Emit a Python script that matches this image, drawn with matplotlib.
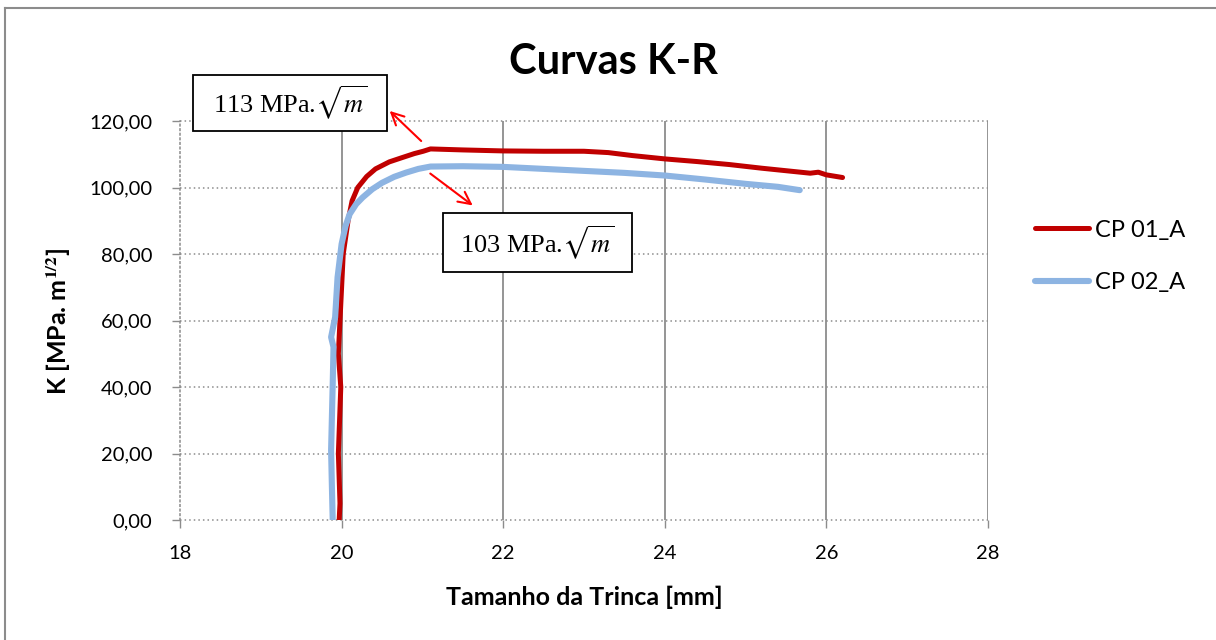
import matplotlib
matplotlib.use("Agg")
import matplotlib.pyplot as plt
from matplotlib.patches import Rectangle
from matplotlib.lines import Line2D
from matplotlib.ticker import FuncFormatter

plt.rcParams['mathtext.fontset'] = 'stix'

# ---- data ----
cp01_x = [19.97, 19.98, 19.96, 19.99, 19.96, 19.98, 20.00, 20.02, 20.08, 20.13,
          20.20, 20.31, 20.42, 20.59, 20.75, 20.90, 21.01, 21.10, 21.50, 22.00,
          22.50, 23.00, 23.30, 23.60, 24.00, 24.40, 24.80, 25.20, 25.60, 25.80,
          25.90, 26.00, 26.20]
cp01_y = [0.0, 5.0, 20.0, 40.0, 50.0, 60.0, 70.0, 80.0, 90.0, 96.0,
          100.0, 103.3, 105.6, 107.7, 109.0, 110.2, 110.9, 111.6, 111.3, 111.0,
          110.9, 110.9, 110.5, 109.6, 108.6, 107.8, 106.9, 105.8, 104.8, 104.3,
          104.6, 103.8, 103.0]

cp02_x = [19.89, 19.88, 19.87, 19.89, 19.90, 19.87, 19.92, 19.95, 20.00, 20.05,
          20.10, 20.18, 20.26, 20.38, 20.50, 20.65, 20.80, 20.95, 21.10, 21.50,
          22.00, 22.50, 23.00, 23.50, 24.00, 24.50, 25.00, 25.40, 25.67]
cp02_y = [0.0, 10.0, 21.0, 41.0, 52.0, 55.0, 61.0, 73.0, 83.0, 88.5,
          92.0, 95.0, 97.0, 99.5, 101.4, 103.2, 104.5, 105.6, 106.3, 106.4,
          106.2, 105.6, 105.0, 104.4, 103.6, 102.4, 101.1, 100.2, 99.2]

series_names = ["CP 01_A", "CP 02_A"]
x_ticks = [18, 20, 22, 24, 26, 28]
y_ticks = [0, 20, 40, 60, 80, 100, 120]
title = "Curvas K-R"
xlabel = "Tamanho da Trinca [mm]"
ylabel = r"K [MPa. m$^{\mathbf{1/2}}$]"
note1 = r"113 MPa.$\sqrt{m}$"
note2 = r"103 MPa.$\sqrt{m}$"

RED = "#c00000"
BLUE = "#8db4e2"
GRID = "#8c8c8c"
FONT = "Lato"
W, H = 1216, 640

fig = plt.figure(figsize=(12.16, 6.4), dpi=100)
ax = fig.add_axes([180/W, 120/H, 808/W, 399/H])

ax.set_xlim(x_ticks[0], x_ticks[-1])
ax.set_ylim(y_ticks[0], y_ticks[-1])

# grid
for yv in y_ticks:
    ax.axhline(yv, color=GRID, lw=1.1, ls=(0, (1, 2)), zorder=1, clip_on=False)
for xv in x_ticks[1:]:
    ax.axvline(xv, color=GRID, lw=1.3, zorder=1)
for s in ["top", "right", "bottom"]:
    ax.spines[s].set_visible(False)
ax.spines["left"].set_color(GRID)
ax.spines["left"].set_linestyle((0, (1, 2)))
ax.spines["left"].set_linewidth(1.1)

ax.plot(cp01_x, cp01_y, color=RED, lw=3.6, solid_capstyle='round', zorder=3)
ax.plot(cp02_x, cp02_y, color=BLUE, lw=4.4, solid_capstyle='round', zorder=4)

ax.set_xticks(x_ticks)
ax.set_yticks(y_ticks)
ax.yaxis.set_major_formatter(FuncFormatter(lambda v, p: f"{v:.2f}".replace(".", ",")))
ax.tick_params(axis='both', length=6, color=GRID, width=1, labelsize=14.5, direction='out')
ax.tick_params(axis='x', pad=12)
ax.tick_params(axis='y', pad=14)
for lab in ax.get_xticklabels() + ax.get_yticklabels():
    lab.set_fontfamily(FONT)

fig.text(584/W, 1 - 597/H, xlabel, ha='center', va='center', fontsize=18,
         fontweight='bold', fontfamily=FONT)
fig.text(59/W, 1 - 321/H, ylabel, ha='center', va='center', fontsize=18,
         fontweight='bold', fontfamily=FONT, rotation=90)
fig.text(613/W, 1 - 62/H, title, ha='center', va='center', fontsize=30,
         fontweight='bold', fontfamily=FONT)

# annotation boxes
def box(x0, x1, y0, y1, text):
    ax.add_patch(Rectangle((x0, y0), x1 - x0, y1 - y0, fill=True, facecolor='white',
                           edgecolor='black', lw=1.3, clip_on=False, zorder=6))
    ax.text((x0 + x1) / 2, (y0 + y1) / 2, text, ha='center', va='center',
            fontsize=19, fontfamily='Liberation Serif', zorder=7, clip_on=False)

box(18.16, 20.56, 117.0, 133.8, note1)
box(21.255, 23.594, 74.6, 92.3, note2)

arrow_kw = dict(arrowstyle='->', color='#ff0000', lw=1.5, mutation_scale=22)
ax.annotate('', xy=(20.57, 123.6), xytext=(21.01, 113.4),
            arrowprops=arrow_kw, annotation_clip=False, zorder=8)
ax.annotate('', xy=(21.65, 94.1), xytext=(21.07, 104.7),
            arrowprops=arrow_kw, annotation_clip=False, zorder=8)

handles = [Line2D([], [], color=RED, lw=3.6, solid_capstyle='round'),
           Line2D([], [], color=BLUE, lw=4.4, solid_capstyle='round')]
fig.legend(handles, series_names, loc='upper left', bbox_to_anchor=(1018/W, 1 - 203/H),
           frameon=False, prop={'family': FONT, 'size': 17}, handlelength=2.3,
           handletextpad=0.25, labelspacing=1.35, borderpad=0.2)

# outer border
fig.add_artist(Line2D([5/W, 5/W], [0, 1 - 8/H], color='#8c8c8c', lw=1.5,
                      transform=fig.transFigure))
fig.add_artist(Line2D([5/W, 1], [1 - 8/H, 1 - 8/H], color='#8c8c8c', lw=1.5,
                      transform=fig.transFigure))

fig.savefig("out.png", dpi=100, facecolor='white')
